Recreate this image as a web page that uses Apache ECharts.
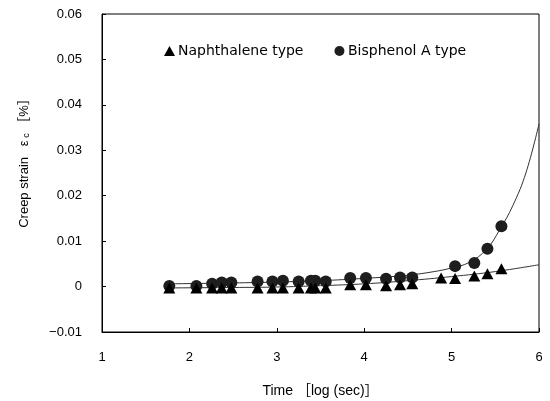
<!DOCTYPE html>
<html>
<head>
<meta charset="utf-8">
<script src="https://cdn.jsdelivr.net/npm/echarts@6/dist/echarts.min.js"></script>
<style>html,body{margin:0;padding:0;background:#fff}#c{width:550px;height:401px}</style>
</head>
<body>
<div id="c"></div>
<script>
// log(time) values of the measurements
var timeLog = [1.77, 2.08, 2.26, 2.37, 2.48, 2.78, 2.95, 3.07, 3.25, 3.39, 3.44, 3.56, 3.84, 4.02, 4.25, 4.41, 4.55];
var timeLogLate = [4.88, 5.04, 5.26, 5.41, 5.57];
// Naphthalene type (triangles)
var naphStrain = [-0.0003, -0.0003, -0.0003, -0.0003, -0.0003, -0.0003, -0.0003, -0.0003, -0.0003, -0.0003, -0.0003, -0.0003, 0.0004, 0.0004, 0.0002, 0.0004, 0.0006];
var naphStrainLate = [0.0019, 0.0018, 0.0023, 0.0028, 0.0039];
// Bisphenol A type (circles)
var bisTime = [1.77, 2.08, 2.26, 2.37, 2.48, 2.78, 2.95, 3.07, 3.25, 3.39, 3.44, 3.56, 3.84, 4.02, 4.25, 4.41, 4.55, 5.04, 5.26, 5.41, 5.57];
var bisStrain = [0.0001, 0.0001, 0.0006, 0.0009, 0.0009, 0.0011, 0.0011, 0.0013, 0.0011, 0.0013, 0.0013, 0.0011, 0.0019, 0.0019, 0.0017, 0.0020, 0.0020, 0.0045, 0.0052, 0.0083, 0.0133];
// fitted curves
var naphFitX = [1.77, 2.5, 3.0, 3.5, 4.0, 4.5, 5.0, 5.5, 6.0];
var naphFitY = [-0.0003, -0.0002, -0.0001, 0.0002, 0.0006, 0.0013, 0.0022, 0.0033, 0.0048];
var bisFitX = [1.77, 2.5, 3.0, 3.5, 4.0, 4.5, 4.8, 5.0, 5.2, 5.4, 5.55, 5.7, 5.85, 6.0];
var bisFitY = [0.0006, 0.0008, 0.0010, 0.0013, 0.0018, 0.0025, 0.0033, 0.0041, 0.0053, 0.0082, 0.0125, 0.0178, 0.0250, 0.0358];
var xTicks = [1, 2, 3, 4, 5, 6];
var yTicks = [-0.01, 0, 0.01, 0.02, 0.03, 0.04, 0.05, 0.06];

function pairs(xs, ys) { return xs.map(function (x, i) { return [x, ys[i]]; }); }
var naphAllX = timeLog.concat(timeLogLate);
var naphAllY = naphStrain.concat(naphStrainLate);

var FONT = '"Liberation Sans", "Noto Sans CJK JP"';
var LFONT = '"DejaVu Sans", "Noto Sans CJK JP"';
var chart = echarts.init(document.getElementById('c'), null, { renderer: 'canvas' });
chart.setOption({
  animation: false,
  backgroundColor: '#fff',
  textStyle: { fontFamily: FONT, color: '#000' },
  grid: {
    left: 102, right: 11, top: 14, bottom: 69, show: true, borderColor: '#000', borderWidth: 1,
    containLabel: false, outerBoundsMode: 'none'
  },
  legend: {
    left: 159, top: 39, itemGap: 31, itemWidth: 11, itemHeight: 10,
    textStyle: { fontFamily: LFONT, fontSize: 14, color: '#000', padding: [0, 0, 0, -2] },
    data: [
      { name: 'Naphthalene type', icon: 'triangle' },
      { name: 'Bisphenol A type', icon: 'circle' }
    ]
  },
  xAxis: {
    type: 'value', min: xTicks[0], max: xTicks[xTicks.length - 1], interval: 1,
    name: 'Time \uFF3Blog (sec)\uFF3D', nameLocation: 'middle', nameGap: 52,
    nameTextStyle: { fontFamily: FONT, fontSize: 14, color: '#000' },
    axisLine: { onZero: false, lineStyle: { color: '#000', width: 1 } },
    axisTick: { inside: true, length: 4, lineStyle: { color: '#000' } },
    axisLabel: { color: '#000', fontSize: 13, margin: 19 },
    splitLine: { show: false }
  },
  yAxis: {
    type: 'value', min: yTicks[0], max: yTicks[yTicks.length - 1], interval: 0.01,
    axisLine: { show: true, onZero: false, lineStyle: { color: '#000', width: 1 } },
    axisTick: { show: true, inside: true, length: 4, lineStyle: { color: '#000' } },
    axisLabel: {
      color: '#000', fontSize: 13, margin: 20,
      formatter: function (v) {
        if (Math.abs(v) < 1e-9) return '0';
        var s = Math.abs(v).toFixed(2);
        return (v < 0 ? '\u2212' : '') + s;
      }
    },
    splitLine: { show: false }
  },
  graphic: [{
    type: 'text', x: 24, y: 160, rotation: Math.PI / 2,
    style: {
      text: '{a|Creep strain   ε}{s| c}{a| \uFF3B%\uFF3D}',
      align: 'center', verticalAlign: 'middle',
      rich: {
        a: { fontFamily: FONT, fontSize: 13, fill: '#000' },
        s: { fontFamily: FONT, fontSize: 9, fill: '#000', padding: [5, 0, 0, 0] }
      }
    }
  }],
  series: [
    {
      name: 'naphFit', type: 'line', data: pairs(naphFitX, naphFitY), smooth: 0.4,
      showSymbol: false, symbol: 'none', silent: true,
      lineStyle: { color: '#333', width: 1 }, z: 1
    },
    {
      name: 'bisFit', type: 'line', data: pairs(bisFitX, bisFitY), smooth: 0.4,
      showSymbol: false, symbol: 'none', silent: true,
      lineStyle: { color: '#333', width: 1 }, z: 1
    },
    {
      name: 'Bisphenol A type', type: 'scatter', data: pairs(bisTime, bisStrain),
      symbol: 'circle', symbolSize: 12, itemStyle: { color: '#1e1e1e', opacity: 1 }, z: 3
    },
    {
      name: 'Naphthalene type', type: 'scatter', data: pairs(naphAllX, naphAllY),
      symbol: 'triangle', symbolSize: [12, 11], itemStyle: { color: '#000', opacity: 1 }, z: 4
    }
  ]
});
</script>
</body>
</html>
